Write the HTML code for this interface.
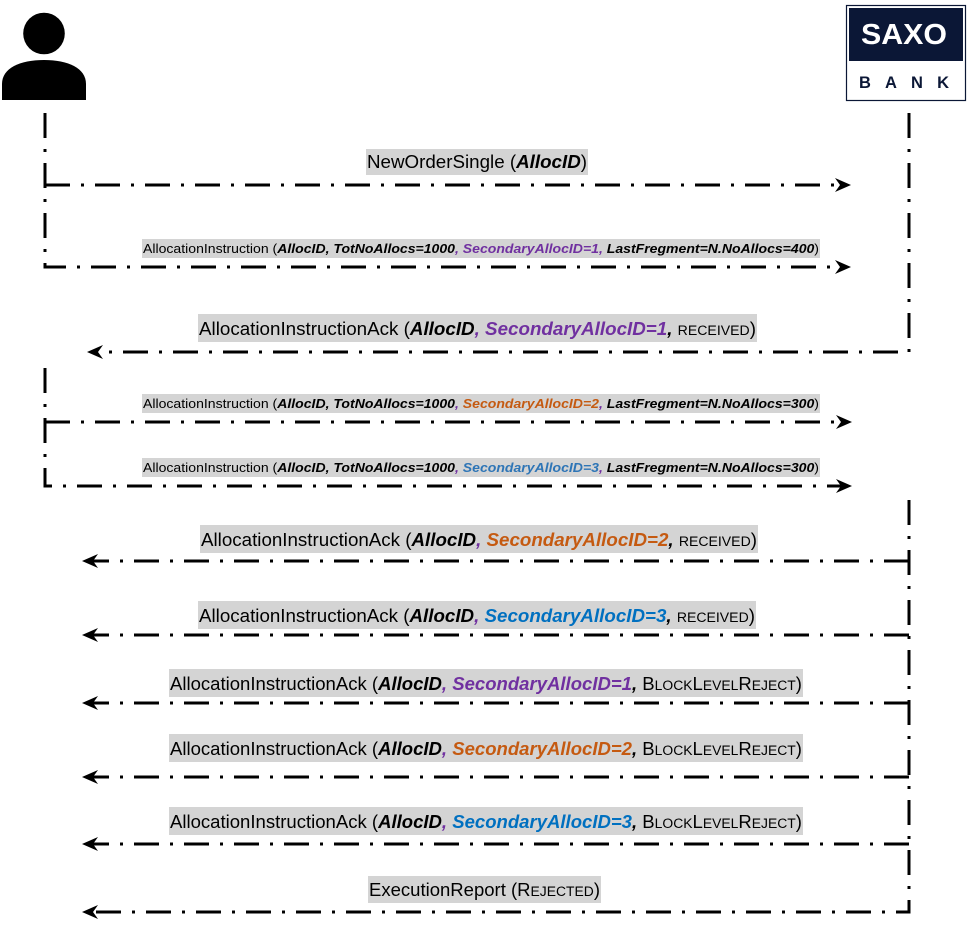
<!DOCTYPE html>
<html>
<head>
<meta charset="utf-8">
<style>
html,body{margin:0;padding:0;background:#fff;}
svg{display:block;}
text{font-family:"Liberation Sans",sans-serif;fill:#000;}
.bi{font-weight:bold;font-style:italic;}
</style>
</head>
<body>
<svg width="970" height="933" viewBox="0 0 970 933" xmlns="http://www.w3.org/2000/svg">
  <!-- Person icon -->
  <circle cx="44" cy="33.5" r="20.8" fill="#000"/>
  <path d="M2,100 V84 C2,68 20,60 44,60 C68,60 86,68 86,84 V100 Z" fill="#000"/>

  <!-- Saxo Bank logo -->
  <rect x="846.5" y="5.5" width="119" height="95" fill="#fff" stroke="#0b1736" stroke-width="1.2"/>
  <rect x="849" y="8" width="114" height="53" fill="#0b1736"/>
  <text x="861" y="44" font-size="29" font-weight="bold" style="fill:#fff" textLength="86" lengthAdjust="spacingAndGlyphs">SAXO</text>
  <text x="859" y="88" font-size="16.5" font-weight="bold" style="fill:#0b1736" textLength="90" lengthAdjust="spacing">BANK</text>

  <!-- Lines -->
  <g fill="none" stroke="#000" stroke-width="3" stroke-dasharray="25 11 3 11">
    <path d="M45,113 V267 H842"/>
    <path d="M45,185 H842"/>
    <path d="M45,368 V486 H842"/>
    <path d="M45,422 H842"/>
    <path d="M909,113 V352 H95"/>
    <path d="M909,500 V912 H90"/>
    <path d="M909,561 H90"/>
    <path d="M909,635 H90"/>
    <path d="M909,703 H90"/>
    <path d="M909,777 H90"/>
    <path d="M909,844 H90"/>
  </g>

  <!-- Arrowheads -->
  <g fill="#000">
    <polygon points="851,185 835,178 840,185 835,192"/>
    <polygon points="851,267 835,260 840,267 835,274"/>
    <polygon points="852,422 836,415 841,422 836,429"/>
    <polygon points="852,486 836,479 841,486 836,493"/>
    <polygon points="87,352 103,345 98,352 103,359"/>
    <polygon points="82,561 98,554 93,561 98,568"/>
    <polygon points="82,635 98,628 93,635 98,642"/>
    <polygon points="82,703 98,696 93,703 98,710"/>
    <polygon points="82,777 98,770 93,777 98,784"/>
    <polygon points="82,844 98,837 93,844 98,851"/>
    <polygon points="82,912 98,905 93,912 98,919"/>
  </g>

  <!-- Label highlight boxes -->
  <g fill="#d4d4d4">
    <rect x="366" y="149" width="222" height="26"/>
    <rect x="142" y="239" width="678" height="19"/>
    <rect x="198" y="314" width="559" height="28"/>
    <rect x="142" y="394" width="678" height="19"/>
    <rect x="142" y="458" width="678" height="19"/>
    <rect x="200" y="525" width="558" height="28"/>
    <rect x="198" y="601" width="558" height="28"/>
    <rect x="169" y="669" width="634" height="28"/>
    <rect x="169" y="734" width="634" height="28"/>
    <rect x="169" y="807" width="634" height="28"/>
    <rect x="368" y="876" width="233" height="27"/>
  </g>

  <!-- Row 1 -->
  <text x="367" y="168" font-size="18" textLength="220" lengthAdjust="spacingAndGlyphs">NewOrderSingle (<tspan class="bi">AllocID</tspan>)</text>

  <!-- Row 2 -->
  <text x="143" y="253" font-size="13.3" textLength="676" lengthAdjust="spacingAndGlyphs">AllocationInstruction (<tspan class="bi">AllocID, TotNoAllocs=1000</tspan><tspan class="bi" style="fill:#7030A0">, SecondaryAllocID=1,</tspan><tspan class="bi"> LastFregment=N.NoAllocs=400</tspan>)</text>

  <!-- Row 3 -->
  <text x="199" y="335" font-size="18" textLength="557" lengthAdjust="spacingAndGlyphs">AllocationInstructionAck (<tspan class="bi">AllocID</tspan><tspan class="bi" style="fill:#7030A0">, SecondaryAllocID=1</tspan><tspan class="bi">,</tspan> <tspan font-size="13.5">RECEIVED</tspan>)</text>

  <!-- Row 4 -->
  <text x="143" y="408" font-size="13.3" textLength="676" lengthAdjust="spacingAndGlyphs">AllocationInstruction (<tspan class="bi">AllocID, TotNoAllocs=1000</tspan><tspan class="bi" style="fill:#7030A0">,</tspan><tspan class="bi" style="fill:#C55A11"> SecondaryAllocID=2</tspan><tspan class="bi" style="fill:#7030A0">,</tspan><tspan class="bi"> LastFregment=N.NoAllocs=300</tspan>)</text>

  <!-- Row 5 -->
  <text x="143" y="472" font-size="13.3" textLength="676" lengthAdjust="spacingAndGlyphs">AllocationInstruction (<tspan class="bi">AllocID, TotNoAllocs=1000</tspan><tspan class="bi" style="fill:#7030A0">,</tspan><tspan class="bi" style="fill:#2E75B6"> SecondaryAllocID=3</tspan><tspan class="bi" style="fill:#7030A0">,</tspan><tspan class="bi"> LastFregment=N.NoAllocs=300</tspan>)</text>

  <!-- Row 6 -->
  <text x="201" y="546" font-size="18" textLength="556" lengthAdjust="spacingAndGlyphs">AllocationInstructionAck (<tspan class="bi">AllocID</tspan><tspan class="bi" style="fill:#7030A0">,</tspan><tspan class="bi" style="fill:#C55A11"> SecondaryAllocID=2</tspan><tspan class="bi">,</tspan> <tspan font-size="13.5">RECEIVED</tspan>)</text>

  <!-- Row 7 -->
  <text x="199" y="622" font-size="18" textLength="556" lengthAdjust="spacingAndGlyphs">AllocationInstructionAck (<tspan class="bi">AllocID</tspan><tspan class="bi" style="fill:#7030A0">,</tspan><tspan class="bi" style="fill:#0070C0"> SecondaryAllocID=3</tspan><tspan class="bi">,</tspan> <tspan font-size="13.5">RECEIVED</tspan>)</text>

  <!-- Row 8 -->
  <text x="170" y="690" font-size="18" textLength="632" lengthAdjust="spacingAndGlyphs">AllocationInstructionAck (<tspan class="bi">AllocID</tspan><tspan class="bi" style="fill:#7030A0">, SecondaryAllocID=1</tspan><tspan class="bi">,</tspan> B<tspan font-size="13.5">LOCK</tspan>L<tspan font-size="13.5">EVEL</tspan>R<tspan font-size="13.5">EJECT</tspan>)</text>

  <!-- Row 9 -->
  <text x="170" y="755" font-size="18" textLength="632" lengthAdjust="spacingAndGlyphs">AllocationInstructionAck (<tspan class="bi">AllocID</tspan><tspan class="bi" style="fill:#7030A0">,</tspan><tspan class="bi" style="fill:#C55A11"> SecondaryAllocID=2</tspan><tspan class="bi">,</tspan> B<tspan font-size="13.5">LOCK</tspan>L<tspan font-size="13.5">EVEL</tspan>R<tspan font-size="13.5">EJECT</tspan>)</text>

  <!-- Row 10 -->
  <text x="170" y="828" font-size="18" textLength="632" lengthAdjust="spacingAndGlyphs">AllocationInstructionAck (<tspan class="bi">AllocID</tspan><tspan class="bi" style="fill:#7030A0">,</tspan><tspan class="bi" style="fill:#0070C0"> SecondaryAllocID=3</tspan><tspan class="bi">,</tspan> B<tspan font-size="13.5">LOCK</tspan>L<tspan font-size="13.5">EVEL</tspan>R<tspan font-size="13.5">EJECT</tspan>)</text>

  <!-- Row 11 -->
  <text x="369" y="896" font-size="18" textLength="231" lengthAdjust="spacingAndGlyphs">ExecutionReport (R<tspan font-size="13.5">EJECTED</tspan>)</text>
</svg>
</body>
</html>
